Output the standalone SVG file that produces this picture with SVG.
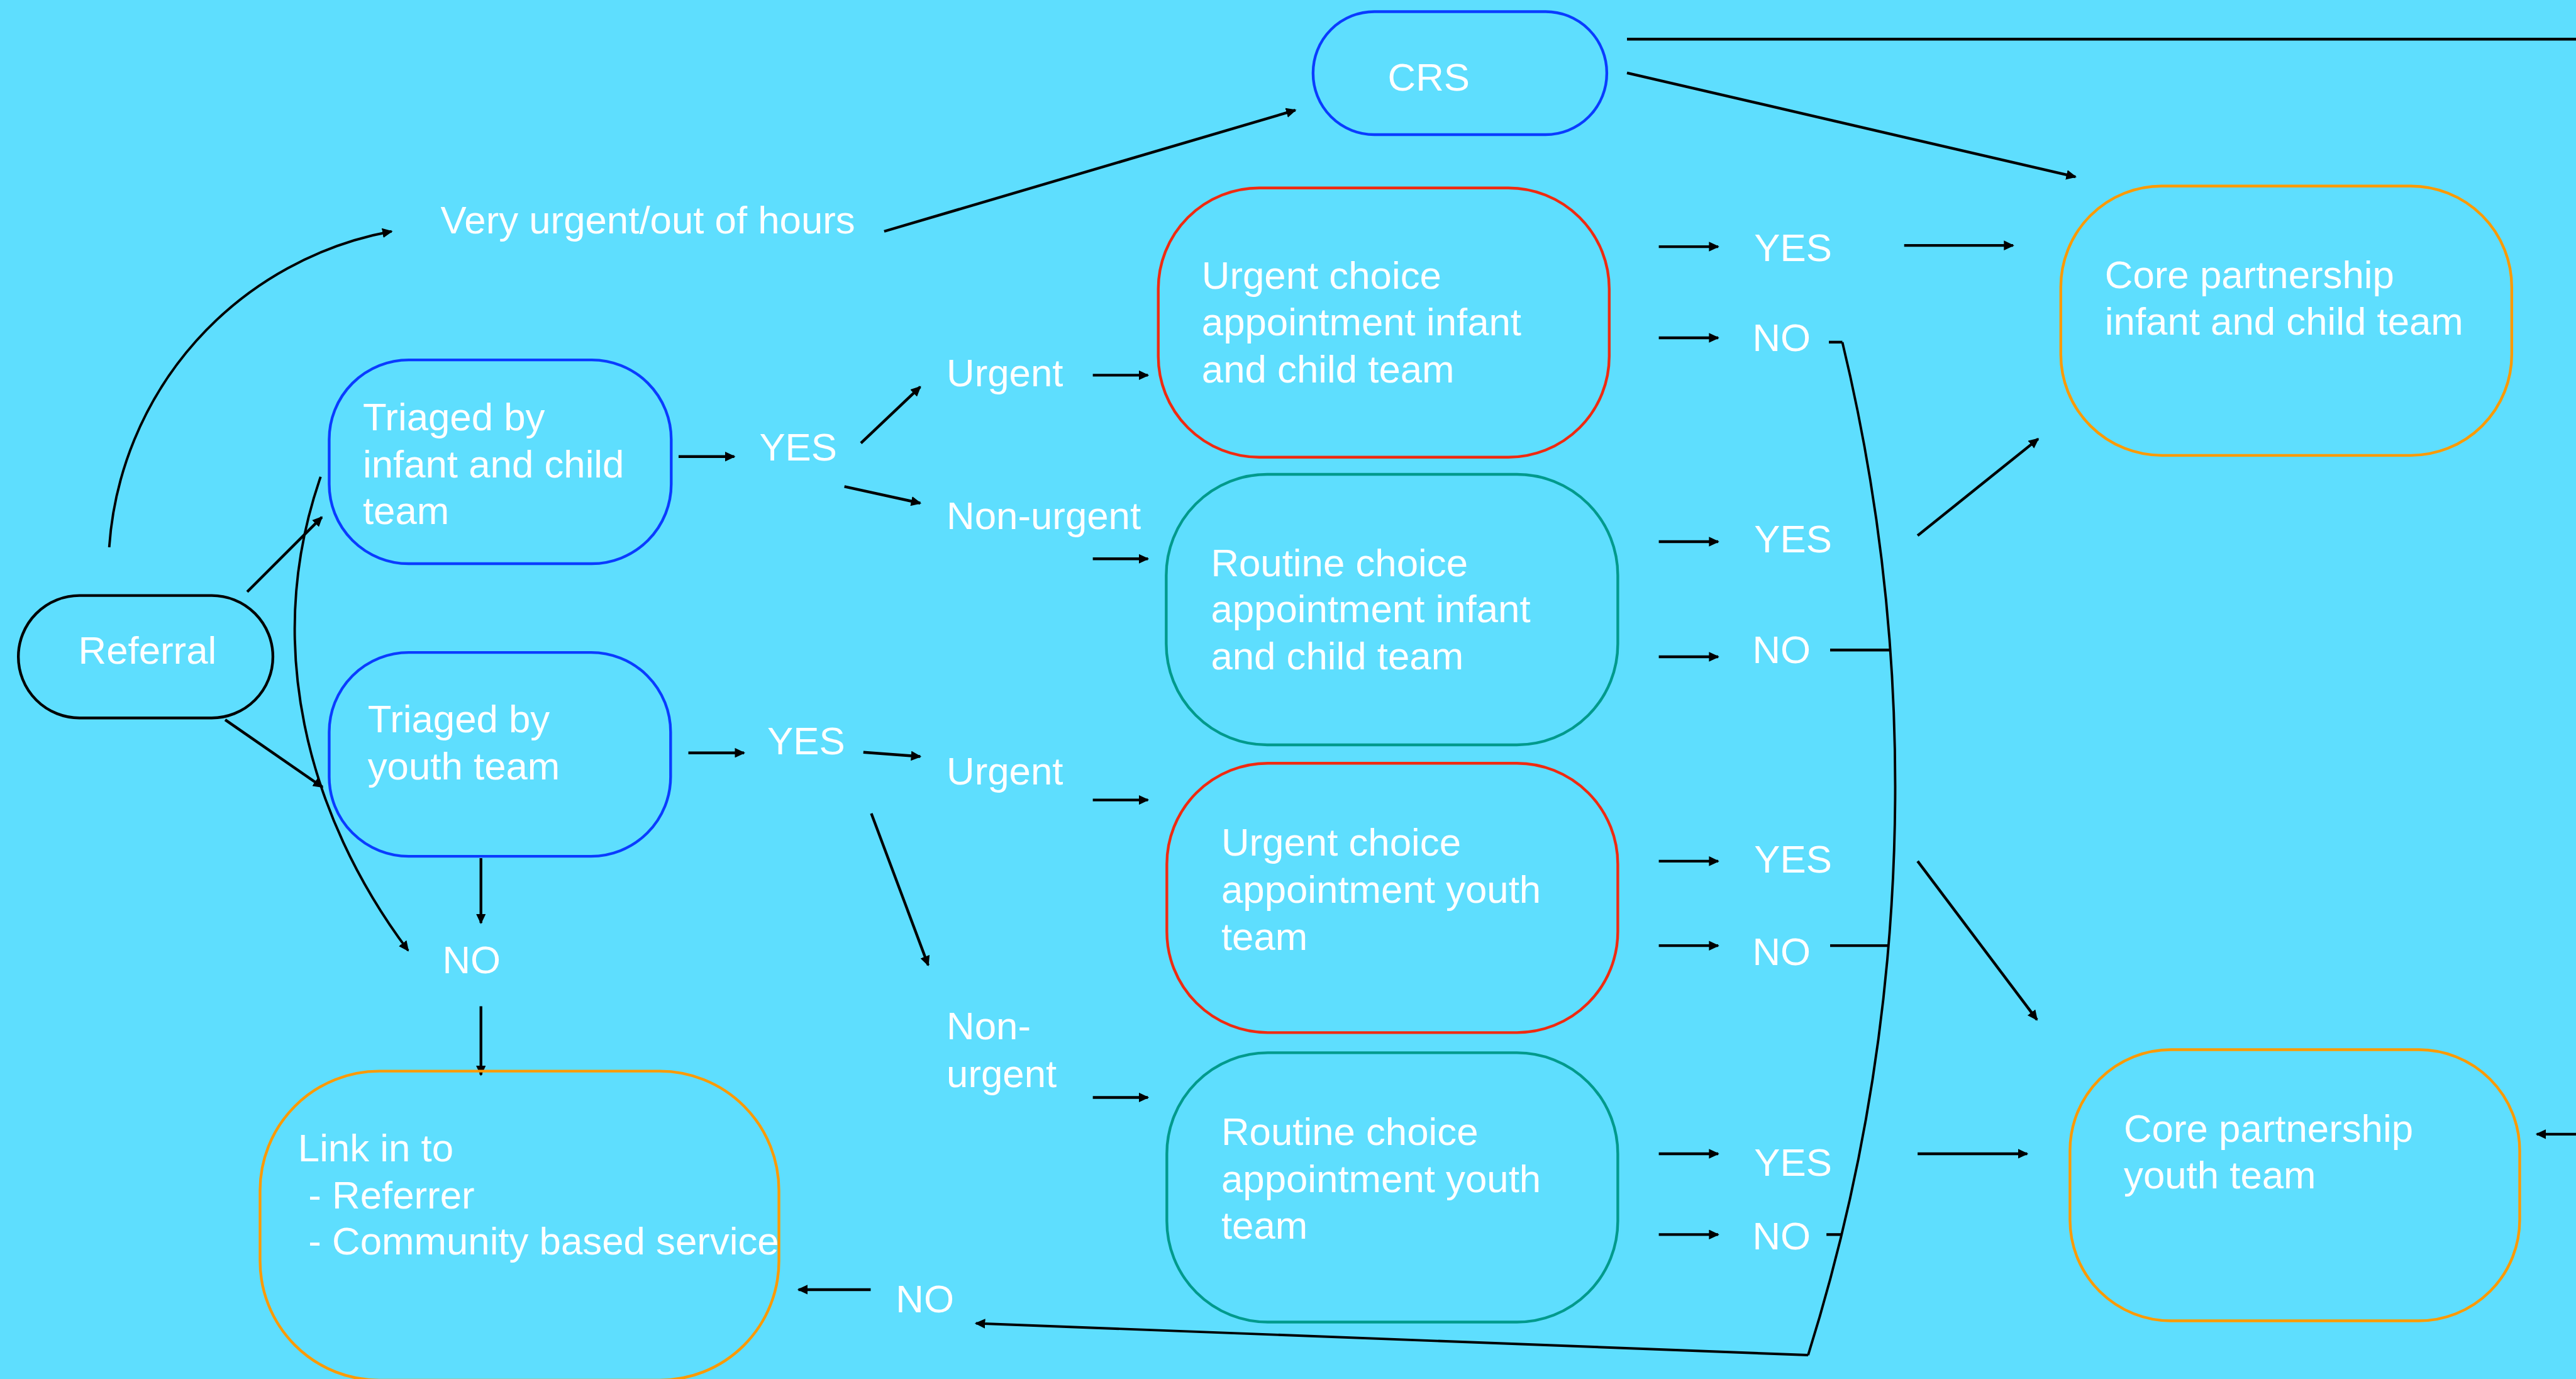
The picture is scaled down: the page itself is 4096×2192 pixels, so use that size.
<svg xmlns="http://www.w3.org/2000/svg" width="4096" height="2192" viewBox="0 0 4096 2192">
  <style>
    .bg { fill: #5edefe; }
    .box { fill: none; stroke-width: 4.5; }
    .blk { stroke: #000000; }
    .blue { stroke: #0a3cff; }
    .red { stroke: #f02a10; }
    .teal { stroke: #009a8c; }
    .orange { stroke: #ff9a00; }
    .lbl { font-family: "Liberation Sans", Arial, sans-serif; font-size: 63.5px; fill: #ffffff; }
    .ln { fill: none; stroke: #000000; stroke-width: 4.5; }
    .cv { fill: none; stroke: #000000; stroke-width: 4; }
    .arr { marker-end: url(#head); }
  </style>
  <defs>
    <marker id="head" markerUnits="userSpaceOnUse" markerWidth="18" markerHeight="16" refX="15" refY="8" orient="auto">
      <path d="M0,0 L17,8 L0,16 z" fill="#000000"/>
    </marker>
  </defs>

  <rect class="bg" x="0" y="0" width="4096" height="2192"/>

  <g transform="scale(0.97292)">
    <!-- connectors -->
    <g id="connectors">
      <path class="cv arr" d="M178.5,894 A564,564 0 0 1 640,378"/>
      <path class="ln arr" d="M1445,378 L2117,180"/>
      <path class="ln" d="M2659,64 L4215,64"/>
      <path class="ln arr" d="M2659,119 L3392,289"/>
      <path class="ln arr" d="M404,967 L526,845"/>
      <path class="ln arr" d="M368,1176 L527,1286"/>
      <path class="cv arr" d="M524,779 C430,1050 500,1330 667,1553"/>
      <path class="ln arr" d="M1109,746 L1200,746"/>
      <path class="ln arr" d="M1407,724 L1504,632"/>
      <path class="ln arr" d="M1380,795 L1504,822"/>
      <path class="ln arr" d="M1786,613 L1876,613"/>
      <path class="ln arr" d="M1786,913 L1876,913"/>
      <path class="ln arr" d="M1125,1230 L1216,1230"/>
      <path class="ln arr" d="M1411,1229 L1504,1236"/>
      <path class="ln arr" d="M1424,1329 L1517,1577"/>
      <path class="ln arr" d="M1786,1307 L1876,1307"/>
      <path class="ln arr" d="M1786,1793 L1876,1793"/>
      <path class="ln arr" d="M786,1402 L786,1508"/>
      <path class="ln arr" d="M786,1644 L786,1756"/>
      <path class="ln arr" d="M1423,2107 L1305,2107"/>
      <path class="cv arr" d="M2955,2214 L1595,2162"/>
      <path class="cv" d="M3011,559 A3100,3100 0 0 1 2955,2214"/>
      <path class="ln" d="M2989,559 L3011,559"/>
      <path class="ln" d="M2991,1062 L3089,1062"/>
      <path class="ln" d="M2991,1545 L3086,1545"/>
      <path class="ln" d="M2985,2017 L3010,2017"/>
      <path class="ln arr" d="M2711,403 L2808,403"/>
      <path class="ln arr" d="M2711,552 L2808,552"/>
      <path class="ln arr" d="M2711,885 L2808,885"/>
      <path class="ln arr" d="M2711,1073 L2808,1073"/>
      <path class="ln arr" d="M2711,1407 L2808,1407"/>
      <path class="ln arr" d="M2711,1545 L2808,1545"/>
      <path class="ln arr" d="M2711,1885 L2808,1885"/>
      <path class="ln arr" d="M2711,2017 L2808,2017"/>
      <path class="ln arr" d="M3112,401 L3290,401"/>
      <path class="ln arr" d="M3134,875 L3331,717"/>
      <path class="ln arr" d="M3134,1407 L3329,1666"/>
      <path class="ln arr" d="M3134,1885 L3313,1885"/>
      <path class="ln arr" d="M4215,1853 L4146,1853"/>
    </g>

    <!-- free-standing labels -->
    <g id="labels" class="lbl">
      <text x="720" y="381">Very urgent/out of hours</text>
      <text x="1241" y="752">YES</text>
      <text x="1254" y="1232">YES</text>
      <text x="723" y="1590">NO</text>
      <text x="1547" y="631">Urgent</text>
      <text x="1547" y="864">Non-urgent</text>
      <text x="1547" y="1282">Urgent</text>
      <text x="1547" y="1698">Non-</text>
      <text x="1547" y="1776">urgent</text>
      <text x="1464" y="2144">NO</text>
      <text x="2867" y="427">YES</text>
      <text x="2864" y="574">NO</text>
      <text x="2867" y="902">YES</text>
      <text x="2864" y="1083">NO</text>
      <text x="2867" y="1426">YES</text>
      <text x="2864" y="1577">NO</text>
      <text x="2867" y="1921">YES</text>
      <text x="2864" y="2041">NO</text>
    </g>

    <!-- nodes -->
    <g id="referral">
      <rect class="box blk" x="30" y="973" width="416" height="200" rx="100" ry="100"/>
      <text class="lbl" x="128" y="1084">Referral</text>
    </g>
    <g id="crs">
      <rect class="box blue" x="2146" y="19" width="480" height="201" rx="100" ry="100"/>
      <text class="lbl" x="2268" y="148">CRS</text>
    </g>
    <g id="triage-infant">
      <rect class="box blue" x="538" y="588" width="559" height="333" rx="130" ry="130"/>
      <text class="lbl" x="593" y="703">Triaged by</text>
      <text class="lbl" x="593" y="780">infant and child</text>
      <text class="lbl" x="593" y="856">team</text>
    </g>
    <g id="triage-youth">
      <rect class="box blue" x="538" y="1066" width="558" height="333" rx="130" ry="130"/>
      <text class="lbl" x="601" y="1196">Triaged by</text>
      <text class="lbl" x="601" y="1273">youth team</text>
    </g>
    <g id="urgent-infant">
      <rect class="box red" x="1893" y="307" width="737" height="440" rx="165" ry="165"/>
      <text class="lbl" x="1964" y="472">Urgent choice</text>
      <text class="lbl" x="1964" y="548">appointment infant</text>
      <text class="lbl" x="1964" y="625">and child team</text>
    </g>
    <g id="routine-infant">
      <rect class="box teal" x="1906" y="775" width="738" height="442" rx="165" ry="165"/>
      <text class="lbl" x="1979" y="941">Routine choice</text>
      <text class="lbl" x="1979" y="1017">appointment infant</text>
      <text class="lbl" x="1979" y="1094">and child team</text>
    </g>
    <g id="urgent-youth">
      <rect class="box red" x="1907" y="1247" width="737" height="440" rx="165" ry="165"/>
      <text class="lbl" x="1996" y="1398">Urgent choice</text>
      <text class="lbl" x="1996" y="1475">appointment youth</text>
      <text class="lbl" x="1996" y="1552">team</text>
    </g>
    <g id="routine-youth">
      <rect class="box teal" x="1907" y="1720" width="737" height="440" rx="165" ry="165"/>
      <text class="lbl" x="1996" y="1871">Routine choice</text>
      <text class="lbl" x="1996" y="1948">appointment youth</text>
      <text class="lbl" x="1996" y="2024">team</text>
    </g>
    <g id="core-infant">
      <rect class="box orange" x="3368" y="304" width="737" height="440" rx="165" ry="165"/>
      <text class="lbl" x="3440" y="471">Core partnership</text>
      <text class="lbl" x="3440" y="547">infant and child team</text>
    </g>
    <g id="core-youth">
      <rect class="box orange" x="3383" y="1715" width="735" height="443" rx="165" ry="165"/>
      <text class="lbl" x="3471" y="1866">Core partnership</text>
      <text class="lbl" x="3471" y="1942">youth team</text>
    </g>
    <g id="link-in">
      <rect class="box orange" x="425" y="1750" width="848" height="505" rx="195" ry="195"/>
      <text class="lbl" x="487" y="1897">Link in to</text>
      <text class="lbl" x="504" y="1974">- Referrer</text>
      <text class="lbl" x="504" y="2050">- Community based service</text>
    </g>
  </g>
</svg>
